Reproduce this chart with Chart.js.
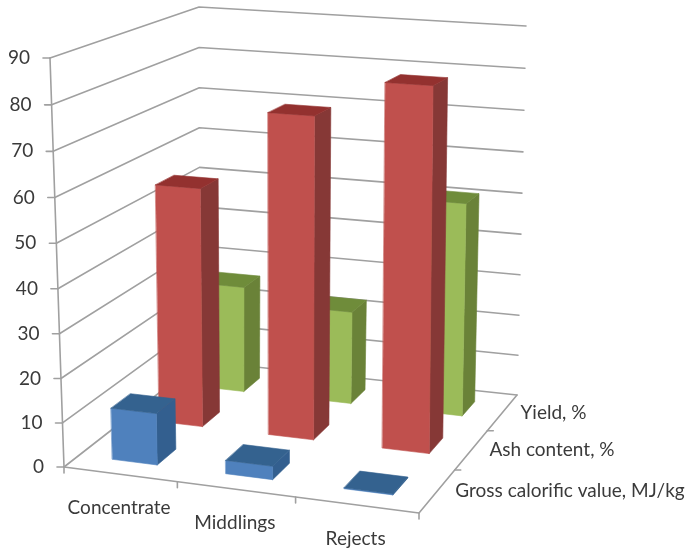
<!DOCTYPE html>
<html><head><meta charset="utf-8">
<style>html,body{margin:0;padding:0;background:#fff}canvas{display:block}</style>
<script src="https://cdn.jsdelivr.net/npm/chart.js@4"></script></head>
<body><canvas id="c" width="691" height="550"></canvas>
<script>
const categories = ["Concentrate", "Middlings", "Rejects"];
const seriesNames = ["Gross calorific value, MJ/kg", "Ash content, %", "Yield, %"];
const grossCalorific = [11.7, 3, 0.2];
const ashContent = [56, 74.5, 83];
const yieldPct = [26, 22.5, 51];
const yTicks = [0, 90, 10];
const frontColors = ["#4F81BD", "#C0504D", "#9BBB59"];
const sideColors = ["#335F8F", "#863836", "#6A8238"];
const topColors = ["#34628F", "#93312F", "#6F8C3A"];
const gridColor = "#A0A0A0", textColor = "#3A3A3A", fontFamily = "Lato, 'Open Sans', sans-serif";

// Box corners of the 3D view: [front-left, front-right, back-right, back-left]
const floorQuad = [[64,467],[419,513],[517,395],[200,361]];
const roofQuad = [[50,58],[420,82],[526,26],[199,7]];
const K = 1.035;

function quadMap(q){
  const [[x0,y0],[x1,y1],[x2,y2],[x3,y3]] = q;
  const dx1=x1-x2, dx2=x3-x2, sx=x0-x1+x2-x3, dy1=y1-y2, dy2=y3-y2, sy=y0-y1+y2-y3;
  const d=dx1*dy2-dx2*dy1, g=(sx*dy2-dx2*sy)/d, h=(dx1*sy-sx*dy1)/d;
  const a=x1-x0+g*x1, b=x3-x0+h*x3, e=y1-y0+g*y1, f=y3-y0+h*y3;
  return (u,v)=>{const w=g*u+h*v+1;return [(a*u+b*v+x0)/w,(e*u+f*v+y0)/w];};
}
const floorAt=quadMap(floorQuad), roofAt=quadMap(roofQuad);
function project(u,v,w){
  const F=floorAt(u,v),T=roofAt(u,v),g=w/(w+K*(1-w));
  return [F[0]+(T[0]-F[0])*g,F[1]+(T[1]-F[1])*g];
}
function poly(ctx,pts,fill){
  ctx.beginPath();pts.forEach((p,i)=>i?ctx.lineTo(p[0],p[1]):ctx.moveTo(p[0],p[1]));ctx.closePath();
  ctx.fillStyle=fill;ctx.strokeStyle=fill;ctx.lineWidth=0.6;ctx.fill();ctx.stroke();
}
function line(ctx,pts){
  ctx.beginPath();pts.forEach((p,i)=>i?ctx.lineTo(p[0],p[1]):ctx.moveTo(p[0],p[1]));ctx.stroke();
}

const view3d = {
  id:"view3d",
  beforeDatasetDraw(){return false;},
  beforeDatasetsDraw(chart){
    const ctx=chart.ctx,A=chart.chartArea,W=A.right-A.left,H=A.bottom-A.top;
    const xs=chart.scales.x,ys=chart.scales.y,zs=chart.scales.z;
    const U=p=>(p-A.left)/W, Wn=p=>(A.bottom-p)/H;
    ctx.save();
    ctx.lineCap="round";ctx.lineJoin="round";
    // walls
    ctx.strokeStyle=gridColor;ctx.lineWidth=1.6;
    ys.ticks.forEach(t=>{
      const w=Wn(ys.getPixelForValue(t.value));
      line(ctx,[project(0,0,w),project(0,1,w),project(1,1,w)]);
      const p=project(0,0,w);
      line(ctx,[p,[p[0]-7,p[1]]]);
    });
    line(ctx,[project(0,0,0),project(0,0,1)]);
    line(ctx,[project(0,0,0),project(1,0,0),project(1,1,0)]);
    // ticks
    for(let i=0;i<=categories.length;i++){
      const p=project(i/categories.length,0,0);line(ctx,[p,[p[0],p[1]+6]]);
    }
    for(let i=1;i<seriesNames.length;i++){
      const p=project(1,i/seriesNames.length,0);line(ctx,[p,[p[0]+6,p[1]]]);
    }
    // axis text
    ctx.fillStyle=textColor;ctx.textBaseline="middle";
    ctx.font="19px "+fontFamily;ctx.textAlign="right";
    ys.ticks.forEach(t=>{
      const p=project(0,0,Wn(ys.getPixelForValue(t.value)));
      ctx.fillText(t.label,p[0]-20,p[1]);
    });
    ctx.font="19px "+fontFamily;ctx.textAlign="center";
    categories.forEach((c,i)=>{
      const p=project(U(xs.getPixelForValue(i)),0,0);
      ctx.fillText(c,p[0]-1,p[1]+33.5);
    });
    ctx.textAlign="left";
    seriesNames.forEach((s,i)=>{
      const p=project(1,U(zs.getPixelForValue(i)),0);
      ctx.fillText(s,p[0]+18,p[1]);
    });
    // bars, back row first
    for(let d=chart.data.datasets.length-1;d>=0;d--){
      const meta=chart.getDatasetMeta(d);
      const zc=U(zs.getPixelForValue(d));
      const hz=0.4/seriesNames.length/2;
      meta.data.forEach(el=>{
        const u0=U(el.x-el.width/2),u1=U(el.x+el.width/2),v0=zc-hz,v1=zc+hz;
        const w0=Wn(el.base),w1=Wn(el.y);
        poly(ctx,[project(u1,v0,w0),project(u1,v1,w0),project(u1,v1,w1),project(u1,v0,w1)],sideColors[d]);
        poly(ctx,[project(u0,v0,w0),project(u1,v0,w0),project(u1,v0,w1),project(u0,v0,w1)],frontColors[d]);
        poly(ctx,[project(u0,v0,w1),project(u1,v0,w1),project(u1,v1,w1),project(u0,v1,w1)],topColors[d]);
      });
    }
    ctx.restore();
  }
};

new Chart(document.getElementById("c"),{
  type:"bar",
  data:{labels:categories,datasets:[
    {label:seriesNames[0],data:grossCalorific,backgroundColor:frontColors[0],grouped:false},
    {label:seriesNames[1],data:ashContent,backgroundColor:frontColors[1],grouped:false},
    {label:seriesNames[2],data:yieldPct,backgroundColor:frontColors[2],grouped:false}
  ]},
  options:{
    responsive:false,animation:false,
    categoryPercentage:1,barPercentage:0.4,
    layout:{padding:{left:60,right:100,top:58,bottom:83}},
    plugins:{legend:{display:false},title:{display:false},tooltip:{enabled:false}},
    scales:{
      x:{display:false,offset:true,grid:{display:false}},
      y:{display:false,min:yTicks[0],max:yTicks[1],ticks:{stepSize:yTicks[2]},grid:{display:false}},
      z:{display:false,type:"category",axis:"x",labels:seriesNames,offset:true,grid:{display:false}}
    }
  },
  plugins:[view3d]
});
</script></body></html>
